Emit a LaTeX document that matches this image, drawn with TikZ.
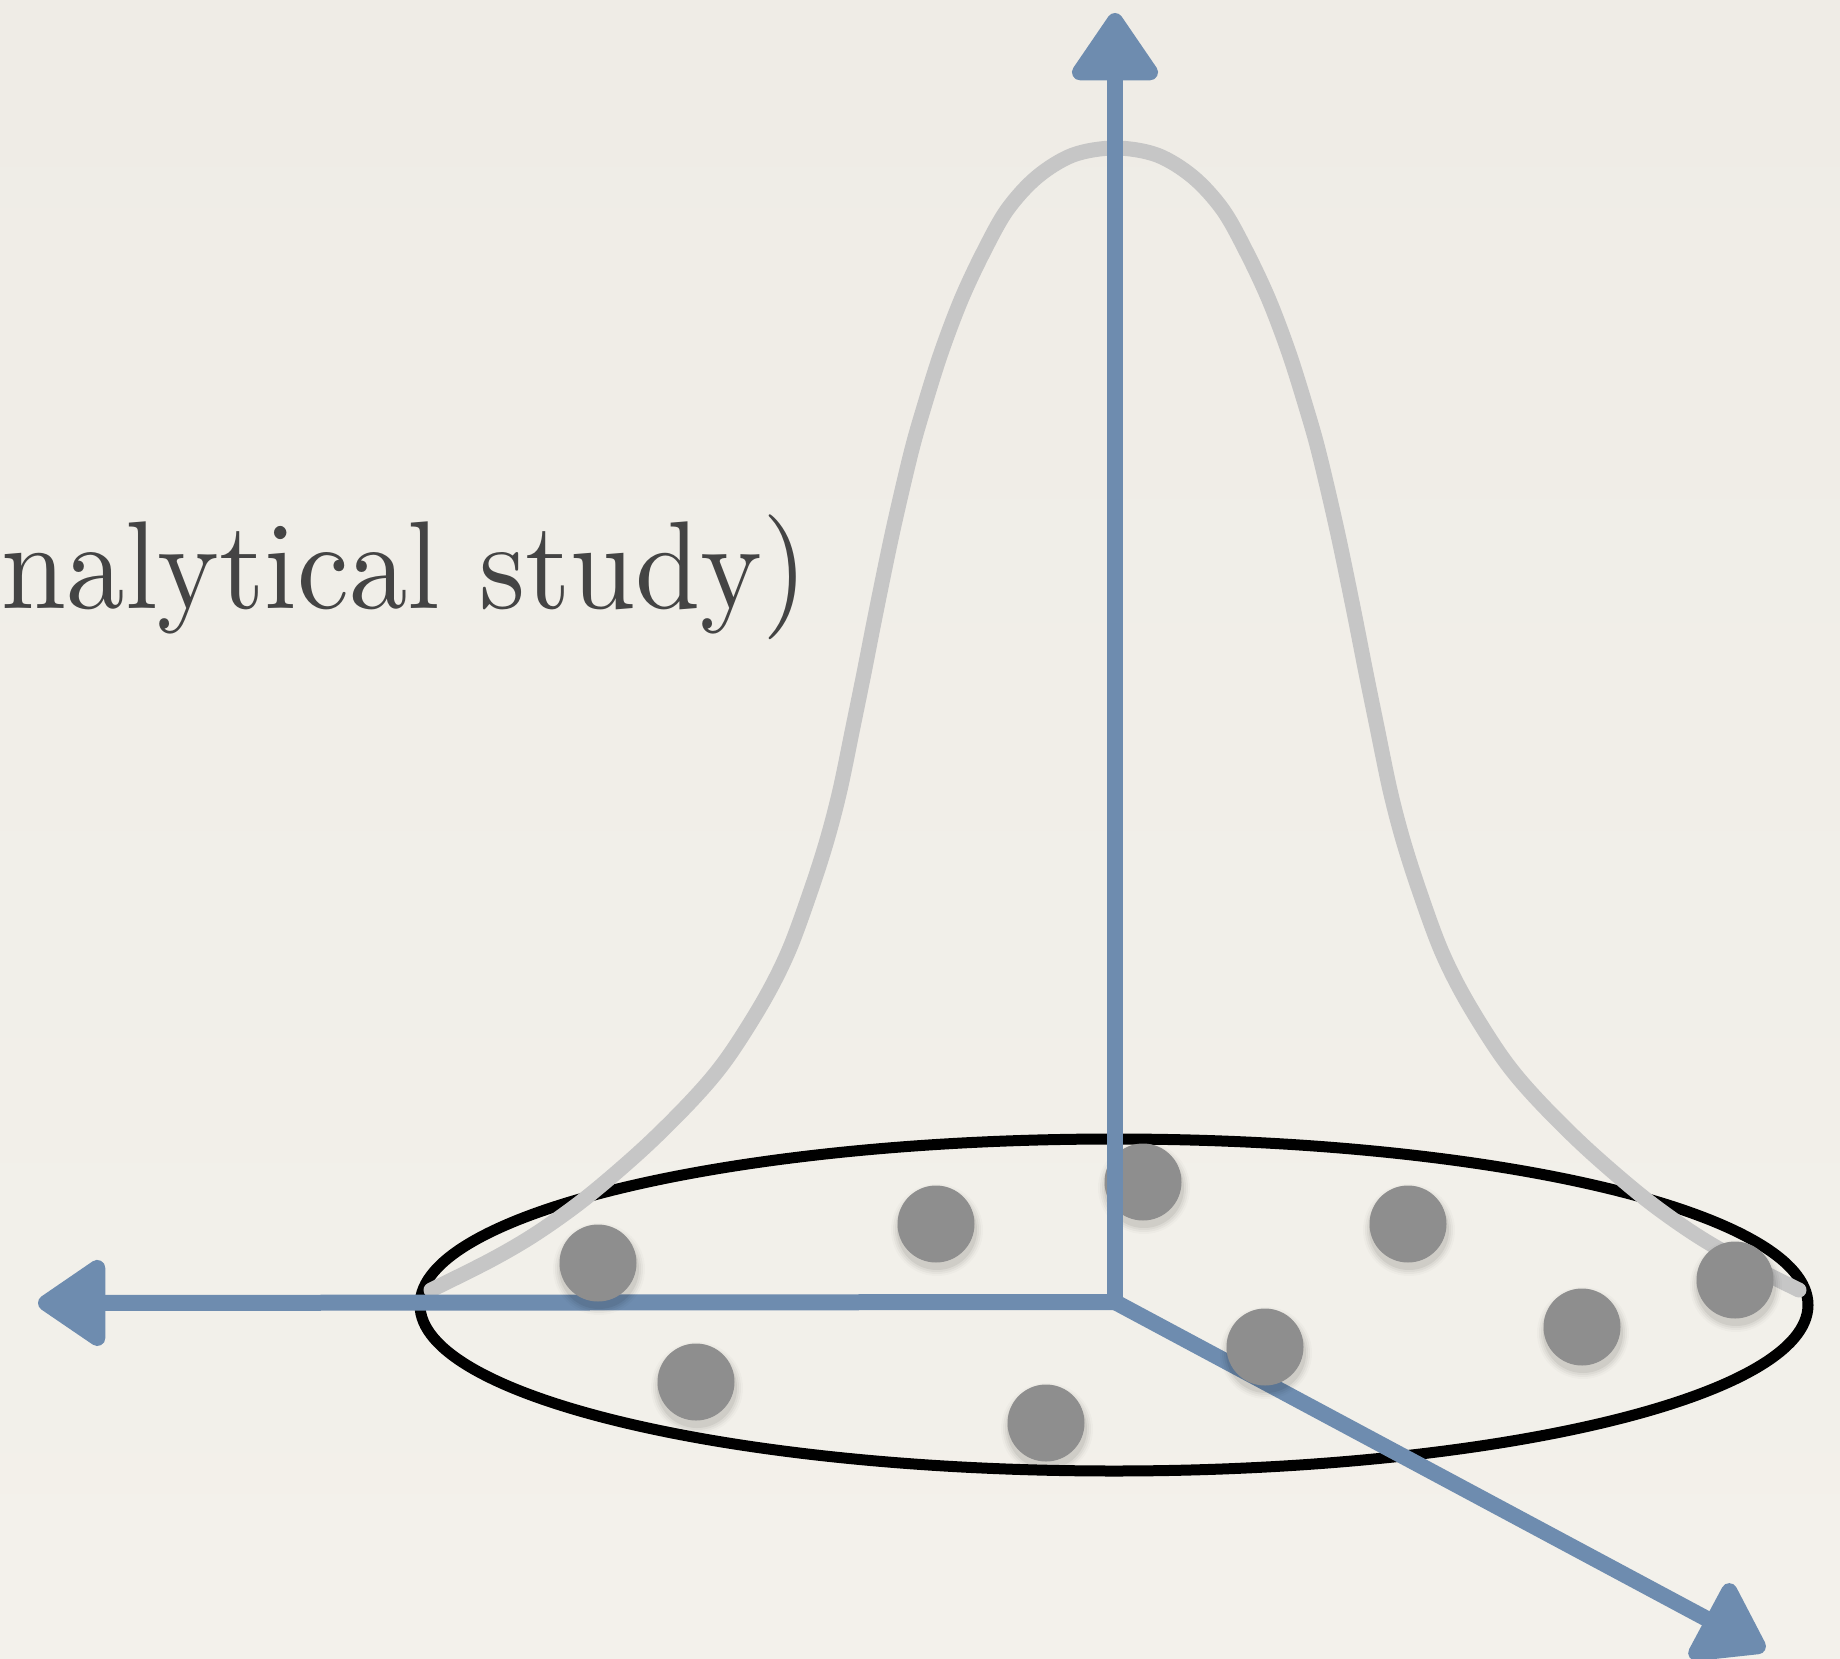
\documentclass[tikz,border=0pt]{standalone}
\usepackage{fontspec}
\newfontfamily\titlefont{lmroman10-regular.otf}[FakeStretch=0.935]
\usetikzlibrary{arrows.meta}
\definecolor{paperTop}{HTML}{EFECE6}
\definecolor{paperMid}{HTML}{E8E6E1}
\definecolor{paperBot}{HTML}{F3F1EB}
\definecolor{axisblue}{HTML}{6E8CAF}
\definecolor{curvegray}{HTML}{C6C6C6}
\definecolor{dotgray}{HTML}{8E8E8E}
\definecolor{textgray}{HTML}{444444}
\begin{document}
\begin{tikzpicture}[x=1pt,y=-1pt,
  axis/.style={draw=axisblue, line width=16pt, line cap=round, line join=round,
    -{Triangle[length=74pt,width=96pt,round]}},
  gauss/.style={draw=curvegray, line width=15pt, line cap=round, line join=round},
  ring/.style={draw=black, line width=11pt},
  ball/.style={circle, fill=dotgray, minimum size=77pt, inner sep=0pt},
  label/.style={text=textgray, inner sep=0pt, font=\titlefont\fontsize{125}{135}\selectfont}]
\shade[top color=paperTop, middle color=paperMid, bottom color=paperBot] (0,0) rectangle (1840,1659);
\useasboundingbox (0,0) rectangle (1840,1659);

\coordinate (O) at (1115,1302);
\coordinate (ytip) at (1115,13);
\coordinate (xtip) at (38,1303);
\coordinate (ztip) at (1765,1650);
\coordinate (ec) at (1114,1305);

\node[label, anchor=base east] (title) at (808,608) {nalytical study)};

% base ellipse
\draw[ring] (ec) ellipse [x radius=694, y radius=166];

% bell curve (left half mirrored to the right)
\draw[gauss] plot[smooth, tension=0.55] coordinates {
 (431,1290) (491,1260) (537,1233) (587,1197) (645,1147) (695,1097) (728,1057)
 (764,1000) (789,950) (811,890) (827,840) (840,790) (853,727) (864,673) (877,607)
 (893,530) (911,453) (924,407) (941,353) (961,300) (983,253) (1007,210) (1037,177)
 (1073,155) (1115,148)
 (1157,155) (1193,177) (1223,210) (1247,253) (1269,300) (1289,353) (1306,407)
 (1319,453) (1337,530) (1353,607) (1366,673) (1377,727) (1390,790) (1403,840)
 (1419,890) (1441,950) (1466,1000) (1502,1057) (1535,1097) (1585,1147) (1643,1197)
 (1693,1233) (1739,1260) (1799,1290)};

% horizontal and depth axes
\draw[axis] (O) -- (xtip);
\draw[axis] (O) -- (ztip);

% shadows of the balls
\foreach \x/\y in {598/1263, 936/1224, 1143/1182, 1408/1224, 1735/1280,
                   1582/1327, 1265/1347, 1046/1423, 696/1382}{
  \foreach \r/\o in {46/0.02, 44/0.03, 42/0.04, 40/0.06}
    \fill[black, opacity=\o] (\x+1,\y+6) circle (\r);
}
% balls
\node[ball] (b1) at (598,1263) {};
\node[ball] (b2) at (936,1224) {};
\node[ball] (b3) at (1143,1182) {};
\node[ball] (b4) at (1408,1224) {};
\node[ball] (b5) at (1735,1280) {};
\node[ball] (b6) at (1582,1327) {};
\node[ball] (b7) at (1265,1347) {};
\node[ball] (b8) at (1046,1423) {};
\node[ball] (b9) at (696,1382) {};

% vertical axis
\draw[axis] (O) -- (ytip);
\end{tikzpicture}
\end{document}
